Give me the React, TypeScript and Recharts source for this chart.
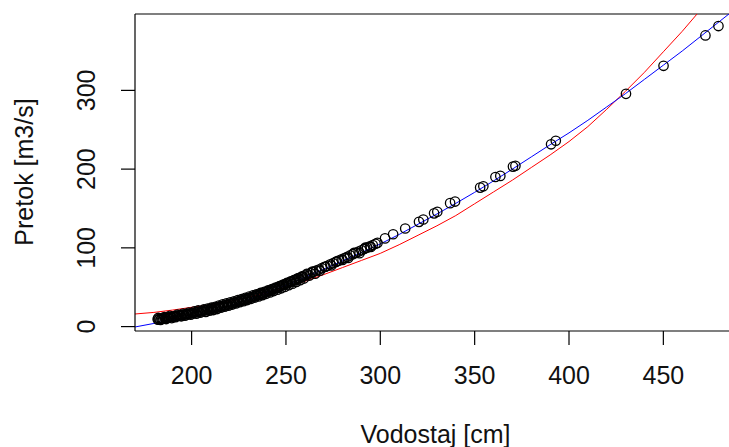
import React from "react";
import { ComposedChart, XAxis, YAxis, Scatter, Line, ReferenceLine } from "recharts";

// Observed points: Vodostaj [cm] (x) and Pretok [m3/s] (y)
const obsX = [
  182, 182.5, 183, 184, 184.5, 185, 186, 187, 187.5, 188, 189, 190, 190.5, 191, 192, 193, 193.5, 194, 195, 196,
  197, 197.5, 198, 199, 200, 200.5, 201, 202, 203, 204, 205, 205.5, 206, 207, 208, 209, 210, 211, 212, 213,
  214, 215, 216, 217, 218, 219, 220, 221, 222, 223, 224, 225, 226, 227, 228, 229, 230, 231, 232, 233,
  234, 235, 236, 237, 238, 239, 240, 241, 242, 243, 244, 245, 246, 247, 248, 249, 250, 251, 252, 253,
  254, 255, 256, 257, 258, 259, 260, 261.5, 263, 264.5, 266, 267.5, 269, 270.5, 272, 273.5, 275, 276.5, 278, 279.5,
  281, 282.5, 284, 285.5, 287, 288.5, 290, 291.5, 293, 294.5, 296, 297.5, 298.5,
  302.5, 306.8, 313.2, 320.5, 322.8, 328.5, 330.2, 337, 339.6, 352.9, 354.6, 361, 363.6, 370.3, 371.6,
  390.5, 393, 430.2, 450.1, 472.3, 479.2,
];
const obsY = [
  9.2, 8.8, 9.6, 10.1, 9.8, 10.4, 10.9, 11.2, 11.8, 11.5, 12.2, 12.6, 12.3, 13.1, 13.5, 13.9, 14.4, 14.2, 14.9, 15.3,
  15.8, 15.5, 16.1, 16.6, 16.9, 17.4, 17.2, 17.9, 18.5, 19.0, 19.4, 20.1, 19.8, 20.6, 21.2, 21.7, 22.3, 22.9, 23.4, 24.1,
  24.6, 25.3, 25.9, 26.6, 27.2, 27.8, 28.6, 29.3, 30.0, 30.6, 31.4, 32.1, 32.8, 33.6, 34.3, 35.1, 35.9, 36.6, 37.5, 38.3,
  39.0, 39.9, 40.8, 41.6, 42.5, 43.4, 44.3, 45.3, 46.2, 47.2, 48.1, 49.2, 50.1, 51.2, 52.1, 53.2, 54.3, 55.2, 56.3, 57.2,
  58.4, 59.3, 60.5, 61.4, 62.6, 63.5, 64.7, 66.3, 67.8, 69.4, 71.0, 72.5, 74.2, 75.8, 77.3, 79.1, 80.5, 82.2, 83.8, 85.5,
  87.1, 88.6, 90.4, 92.0, 93.6, 95.3, 96.9, 98.6, 100.2, 101.9, 103.6, 105.2, 106.3,
  112, 117.3, 124.6, 133, 136, 143.8, 145.8, 156.8, 158.8, 176.5, 178.2, 190, 191.4, 203.2, 204.2,
  231.5, 236, 295.6, 331.2, 369.8, 381.7,
];

// Further observations in the dense low-stage band
const denseX = [
  182.3, 183.5, 185.5, 186.5, 188.5, 189.5, 191.5, 192.5, 194.5, 195.5, 196.5, 198.5, 199.5, 201.5, 202.5, 203.5, 204.5, 206.5, 207.5, 208.5,
  209.5, 210.5, 211.5, 212.5, 213.5, 214.5, 215.5, 216.5, 217.5, 218.5, 219.5, 220.5, 221.5, 222.5, 223.5, 224.5, 225.5, 226.5, 227.5, 228.5,
  229.5, 230.5, 231.5, 232.5, 233.5, 234.5, 235.5, 236.5, 237.5, 238.5, 239.5, 240.5, 241.5, 242.5, 243.5, 244.5, 245.5, 246.5, 247.5, 248.5,
  249.5, 250.5, 251.5, 252.5, 253.5, 254.5, 255.5, 256.5, 257.5, 258.5, 259.5, 261, 262.5, 264, 265.5, 268, 271, 274, 277, 280, 283, 286, 289, 292, 295,
];
const denseY = [
  11.0, 8.4, 12.0, 9.6, 13.6, 10.8, 11.9, 15.2, 13.1, 16.6, 13.8, 17.8, 15.1, 19.4, 16.3, 20.5, 17.6, 21.8, 18.7, 23.0,
  20.1, 24.0, 21.0, 25.1, 22.3, 26.7, 23.9, 28.2, 25.3, 29.5, 26.6, 30.8, 28.0, 32.2, 29.3, 33.7, 30.9, 35.0, 32.3, 36.6,
  33.7, 38.0, 35.3, 39.6, 36.9, 41.1, 38.3, 42.7, 40.0, 44.2, 41.6, 45.9, 43.4, 47.6, 45.1, 49.5, 46.8, 51.3, 48.6, 53.4,
  50.5, 55.4, 52.5, 57.3, 54.5, 59.5, 56.8, 61.6, 58.9, 63.7, 61.0, 66.9, 64.8, 69.9, 67.1, 71.0, 76.0, 77.6, 83.0, 84.6, 87.1, 93.5, 93.2, 100.2, 101.1,
];

// Fitted curves
const curveX = [170, 180, 190, 200, 210, 220, 230, 240, 250, 260, 270, 280, 290, 300, 310, 320, 330, 340, 350, 360, 370, 380, 390, 400, 410, 420, 430, 440, 450, 460, 470, 480, 490];
const blueY = [-0.5, 4, 8.5, 13, 19, 26, 34, 43, 52.5, 62.5, 73, 83.5, 94, 105, 117, 130, 143, 156.5, 170.5, 185, 200, 215.5, 231, 246, 262, 279, 296, 314, 332, 350, 369, 388, 407];
const redY = [16, 18, 21, 24.5, 27.5, 32, 37, 43, 50, 57.5, 66, 75, 84, 93, 104, 116, 128, 141, 156, 171, 186, 202, 218, 235, 254, 276, 299, 323, 349, 375, 403, 431, 460];

const xTicks = [200, 250, 300, 350, 400, 450];
const yTicks = [0, 100, 200, 300];

const points = [
  ...obsX.map((x, i) => ({ x, y: obsY[i] })),
  ...denseX.map((x, i) => ({ x, y: denseY[i] })),
];
const blueData = curveX.map((x, i) => ({ x, y: blueY[i] }));
const redData = curveX.map((x, i) => ({ x, y: redY[i] }));

const FONT = "'Liberation Sans', Arial, sans-serif";
const TXT = "#111";

const XTick = (props: any) => {
  const { x, payload } = props;
  return (
    <text x={x} y={384} textAnchor="middle" fontFamily={FONT} fontSize={25} fill={TXT}>
      {payload.value}
    </text>
  );
};

const YTick = (props: any) => {
  const { y, payload } = props;
  return (
    <text
      x={95}
      y={y}
      textAnchor="middle"
      transform={`rotate(-90 95 ${y})`}
      fontFamily={FONT}
      fontSize={25}
      fill={TXT}
    >
      {payload.value}
    </text>
  );
};

const XTitle = () => (
  <text x={435.5} y={443} textAnchor="middle" fontFamily={FONT} fontSize={25} fill={TXT}>
    Vodostaj [cm]
  </text>
);

const YTitle = () => (
  <text x={33} y={172} textAnchor="middle" transform="rotate(-90 33 172)" fontFamily={FONT} fontSize={25} fill={TXT}>
    Pretok [m3/s]
  </text>
);

const Circle = (props: any) => {
  const { cx, cy } = props;
  if (cx == null || cy == null) return null;
  return <circle cx={cx} cy={cy} r={4.7} fill="none" stroke="#000" strokeWidth={1.3} />;
};

export default function App() {
  return (
    <div style={{ position: "absolute", left: 0, top: 0, width: 729, height: 447, overflow: "hidden", background: "#fff" }}>
      <ComposedChart width={760} height={447} margin={{ top: 14, right: 24, bottom: 0, left: 0 }}>
        <XAxis
          type="number"
          dataKey="x"
          domain={[170, 488.5]}
          allowDataOverflow
          ticks={xTicks}
          tickSize={14}
          height={116}
          axisLine={{ stroke: "#000", strokeWidth: 1.2 }}
          tickLine={{ stroke: "#000", strokeWidth: 1.2 }}
          tick={<XTick />}
          label={<XTitle />}
        />
        <YAxis
          type="number"
          dataKey="y"
          domain={[-5.6, 397]}
          allowDataOverflow
          ticks={yTicks}
          tickSize={14}
          width={135}
          axisLine={{ stroke: "#000", strokeWidth: 1.2 }}
          tickLine={{ stroke: "#000", strokeWidth: 1.2 }}
          tick={<YTick />}
          label={<YTitle />}
        />
        <ReferenceLine y={397} stroke="#000" strokeWidth={1.2} />
        <ReferenceLine x={488.5} stroke="#000" strokeWidth={1.2} />
        <Scatter data={points} shape={<Circle />} isAnimationActive={false} />
        <Line data={redData} dataKey="y" type="linear" stroke="#ff0000" strokeWidth={1} dot={false} isAnimationActive={false} />
        <Line data={blueData} dataKey="y" type="linear" stroke="#0000ff" strokeWidth={1} dot={false} isAnimationActive={false} />
      </ComposedChart>
    </div>
  );
}
